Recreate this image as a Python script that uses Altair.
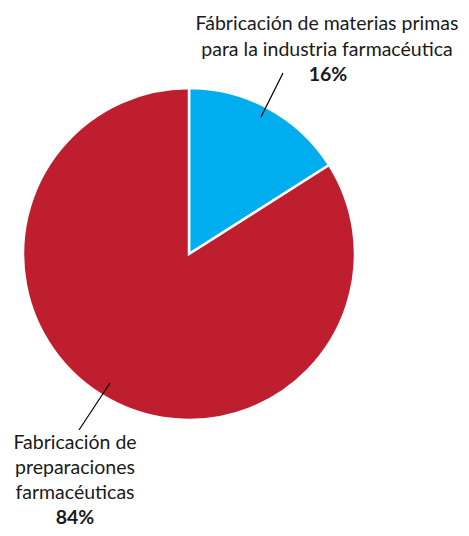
import altair as alt
import pandas as pd

categories = ["Fábricación de materias primas para la industria farmacéutica",
              "Fabricación de preparaciones farmacéuticas"]
values = [16, 84]
colors = ["#00AEEF", "#BE1E2D"]

top_lines = ["Fábricación de materias primas", "para la industria farmacéutica"]
top_pct = "16%"
bottom_lines = ["Fabricación de", "preparaciones", "farmacéuticas"]
bottom_pct = "84%"

FONT = "Lato"
FS = 19.5
CX, CY, R = 181, 246, 166

pie_df = pd.DataFrame({"cat": categories, "value": values, "order": [0, 1]})

pie = alt.Chart(pie_df).mark_arc(radius=R, stroke="white", strokeWidth=2.5).encode(
    theta=alt.Theta("value:Q", stack=True),
    order=alt.Order("order:Q"),
    color=alt.Color("cat:N", scale=alt.Scale(domain=categories, range=colors), legend=None),
    x=alt.value(CX), y=alt.value(CY),
)

def single_text(t, x, y, bold):
    return alt.Chart(pd.DataFrame({"t": [t]})).mark_text(
        font=FONT, fontSize=FS, fontWeight="bold" if bold else "normal",
        color="#1a1a1a", baseline="middle", align="center"
    ).encode(text="t:N", x=alt.value(x), y=alt.value(y))

layers = [pie]
for i, t in enumerate(top_lines):
    layers.append(single_text(t, 319, 16 + 26 * i, False))
layers.append(single_text(top_pct, 320, 67, True))
for i, t in enumerate(bottom_lines):
    layers.append(single_text(t, 67, 435 + 25 * i, False))
layers.append(single_text(bottom_pct, 67, 510, True))

rule_top = alt.Chart(pd.DataFrame({"a": [0]})).mark_rule(color="black", strokeWidth=1.2).encode(
    x=alt.value(275), y=alt.value(65), x2=alt.value(253), y2=alt.value(109))
rule_bot = alt.Chart(pd.DataFrame({"a": [0]})).mark_rule(color="black", strokeWidth=1.2).encode(
    x=alt.value(102), y=alt.value(375), x2=alt.value(71), y2=alt.value(422))
layers += [rule_top, rule_bot]

chart = alt.layer(*layers).properties(
    width=453, height=520, padding=0,
    autosize=alt.AutoSizeParams(type="fit", contains="padding"),
).configure_view(stroke=None)

chart.save("out.html", embed_options={"renderer": "svg", "actions": False})
